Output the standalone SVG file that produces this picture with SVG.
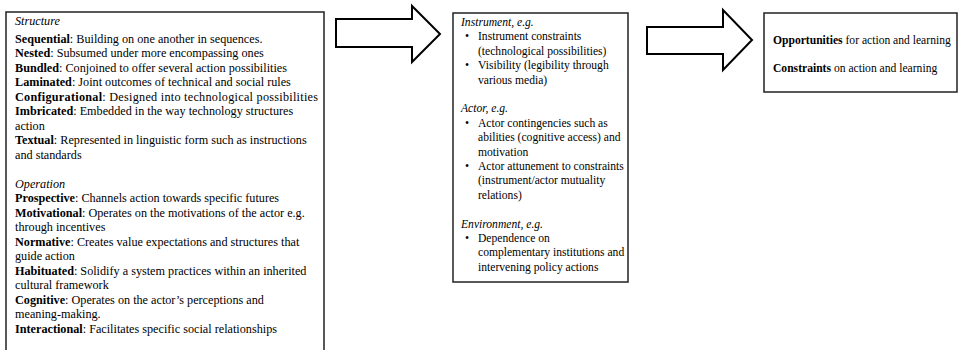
<svg xmlns="http://www.w3.org/2000/svg" width="960" height="350" viewBox="0 0 960 350">
<style>
.box{fill:#fff;stroke:#222;stroke-width:1.5}
.arrow{fill:#fff;stroke:#000;stroke-width:2;stroke-linejoin:miter}
text{font-family:"Liberation Serif","Times New Roman",serif;font-size:12.2px;fill:#000}
.s{font-size:11.6px}
.b{font-weight:bold}
.i{font-style:italic}
</style>
<rect width="960" height="350" fill="#fff"/>
<g id="connectors">
<polygon class="arrow" points="336,19 412,19 412,6 440,34 412,62 412,47 336,47"/>
<polygon class="arrow" points="647,27 723,27 723,10 752,40 723,70 723,54 647,54"/>
</g>
<g id="mechanisms">
<rect class="box" x="6" y="12" width="318" height="346"/>
<text x="15" y="25" class="i">Structure</text>
<text x="15" y="42.5"><tspan class="b">Sequential</tspan>: Building on one another in sequences.</text>
<text x="15" y="57"><tspan class="b">Nested</tspan>: Subsumed under more encompassing ones</text>
<text x="15" y="71.5"><tspan class="b">Bundled</tspan>: Conjoined to offer several action possibilities</text>
<text x="15" y="86"><tspan class="b">Laminated</tspan>: Joint outcomes of technical and social rules</text>
<text x="15" y="100.5" textLength="303" lengthAdjust="spacing"><tspan class="b">Configurational</tspan>: Designed into technological possibilities</text>
<text x="15" y="115"><tspan class="b">Imbricated</tspan>: Embedded in the way technology structures</text>
<text x="15" y="129.5">action</text>
<text x="15" y="144"><tspan class="b">Textual</tspan>: Represented in linguistic form such as instructions</text>
<text x="15" y="158.5">and standards</text>
<text x="15" y="187.5" class="i">Operation</text>
<text x="15" y="202"><tspan class="b">Prospective</tspan>: Channels action towards specific futures</text>
<text x="15" y="216.5"><tspan class="b">Motivational</tspan>: Operates on the motivations of the actor e.g.</text>
<text x="15" y="231">through incentives</text>
<text x="15" y="245.5"><tspan class="b">Normative</tspan>: Creates value expectations and structures that</text>
<text x="15" y="260">guide action</text>
<text x="15" y="274.5"><tspan class="b">Habituated</tspan>: Solidify a system practices within an inherited</text>
<text x="15" y="289">cultural framework</text>
<text x="15" y="303.5"><tspan class="b">Cognitive</tspan>: Operates on the actor’s perceptions and</text>
<text x="15" y="318">meaning-making.</text>
<text x="15" y="332.5"><tspan class="b">Interactional</tspan>: Facilitates specific social relationships</text>
</g>
<g id="contingencies">
<rect class="box" x="453" y="13" width="175" height="269"/>
<text x="461" y="26" class="s i">Instrument, e.g.</text>
<text x="465" y="40.4" class="s">•</text><text x="478" y="40.4" class="s">Instrument constraints</text>
<text x="478" y="54.8" class="s">(technological possibilities)</text>
<text x="465" y="69.2" class="s">•</text><text x="478" y="69.2" class="s">Visibility (legibility through</text>
<text x="478" y="83.6" class="s">various media)</text>
<text x="461" y="112.4" class="s i">Actor, e.g.</text>
<text x="465" y="126.8" class="s">•</text><text x="478" y="126.8" class="s">Actor contingencies such as</text>
<text x="478" y="141.2" class="s">abilities (cognitive access) and</text>
<text x="478" y="155.6" class="s">motivation</text>
<text x="465" y="170" class="s">•</text><text x="478" y="170" class="s">Actor attunement to constraints</text>
<text x="478" y="184.4" class="s">(instrument/actor mutuality</text>
<text x="478" y="198.8" class="s">relations)</text>
<text x="461" y="227.6" class="s i">Environment, e.g.</text>
<text x="465" y="242" class="s">•</text><text x="478" y="242" class="s">Dependence  on</text>
<text x="478" y="256.4" class="s">complementary institutions and</text>
<text x="478" y="270.8" class="s">intervening policy actions</text>
</g>
<g id="outcomes">
<rect class="box" x="764" y="13" width="193" height="79"/>
<text x="773" y="43.5" class="s"><tspan class="b">Opportunities</tspan>  for action and learning</text>
<text x="773" y="71.5" class="s"><tspan class="b">Constraints</tspan> on action and learning</text>
</g>
</svg>
